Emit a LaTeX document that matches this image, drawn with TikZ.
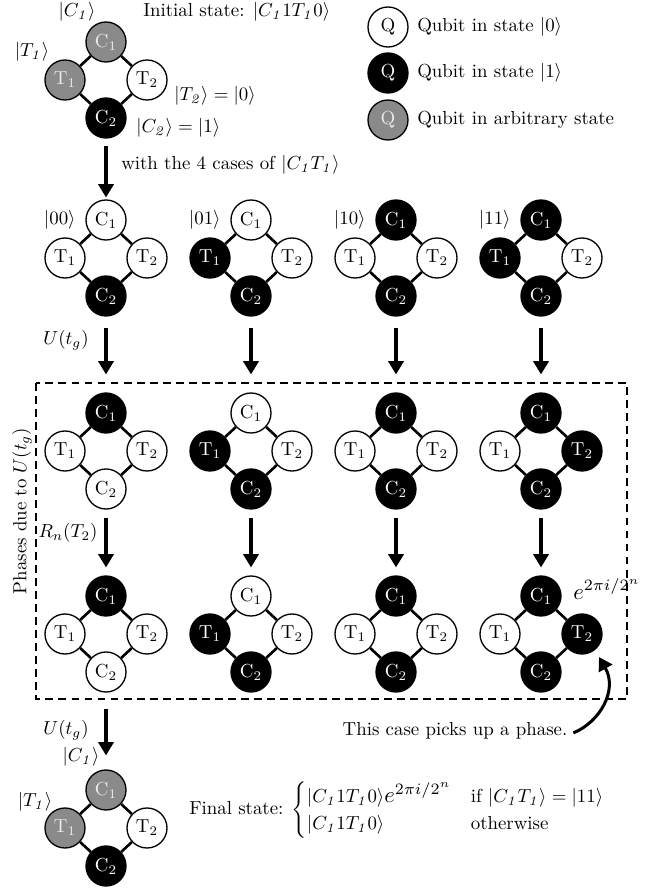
\documentclass[tikz,border=0pt]{standalone}
\usepackage{amsmath}
\usepackage{graphicx}
\usetikzlibrary{arrows.meta}

\definecolor{qgray}{RGB}{138,138,138}

\tikzset{
  qubit/.style={circle, draw=black, line width=0.7pt, minimum size=21.2pt, inner sep=0pt},
  q0/.style={fill=white, text=black},
  q1/.style={fill=black, text=white},
  qa/.style={fill=qgray, text=white!92!black},
  bond/.style={line width=1.4pt},
  flow/.style={line width=1.6pt, -{Triangle[length=7pt,width=8pt]}},
  phasebox/.style={line width=0.8pt, dash pattern=on 4.2pt off 2.7pt},
  txt/.style={inner sep=1pt},
}

% four coupled qubits on a diamond: name, centre x, centre y, styles of C1, T1, T2, C2
\newcommand\qring[7]{%
  \node[qubit,#4] (#1-c1) at (#2,#3-38) {C$_1$};
  \node[qubit,#5] (#1-t1) at (#2-41,#3) {T$_1$};
  \node[qubit,#6] (#1-t2) at (#2+41,#3) {T$_2$};
  \node[qubit,#7] (#1-c2) at (#2,#3+38) {C$_2$};
  \draw[bond] (#1-c1) -- (#1-t1) -- (#1-c2) -- (#1-t2) -- (#1-c1);
}
\newcommand\ket[1]{\lvert #1\rangle}
% the acquired phase factor, set a little larger than the surrounding text
\newcommand\phasefactor{\scalebox{1.2}{$e^{2\pi i/2^n}$}}

\begin{document}
\begin{tikzpicture}[x=0.53pt, y=-0.53pt]
\useasboundingbox (0,0) rectangle (654,888);

% initial configuration
\qring{top}{106}{80}{qa}{qa}{q0}{q1}
\node[txt] (topc1lab) at (77,12) {$\ket{C_{\mathit 1}}$};
\node[txt] (topt1lab) at (32,52) {$\ket{T_{\mathit 1}}$};
\node[txt, anchor=west] (initlab) at (141,12) {Initial state: $\ket{C_{\mathit 1}1T_{\mathit 1}0}$};
\node[txt, anchor=west] (t2lab) at (172,96) {$\ket{T_{\mathit 2}} = \ket{0}$};
\node[txt, anchor=west] (c2lab) at (134,128) {$\ket{C_{\mathit 2}} = \ket{1}$};
\node[txt, anchor=west] (caselab) at (119,165) {with the 4 cases of $\ket{C_{\mathit 1}T_{\mathit 1}}$};

% legend
\node[qubit,q0] (leg0) at (388,27) {Q};
\node[qubit,q1] (leg1) at (388,73) {Q};
\node[qubit,qa] (lega) at (388,120) {Q};
\node[txt, anchor=west] (leg0t) at (415,27) {Qubit in state $\ket{0}$};
\node[txt, anchor=west] (leg1t) at (415,73) {Qubit in state $\ket{1}$};
\node[txt, anchor=west] (legat) at (415,120) {Qubit in arbitrary state};

% the four cases of C1 T1
\qring{ra}{106}{258}{q0}{q0}{q0}{q1}
\qring{rb}{251}{258}{q0}{q1}{q0}{q1}
\qring{rc}{396}{258}{q1}{q0}{q0}{q1}
\qring{rd}{541}{258}{q1}{q1}{q0}{q1}
\node[txt, anchor=east] (l00) at ([xshift=-4pt]ra-c1.west) {$\ket{00}$};
\node[txt, anchor=east] (l01) at ([xshift=-4pt]rb-c1.west) {$\ket{01}$};
\node[txt, anchor=east] (l10) at ([xshift=-4pt]rc-c1.west) {$\ket{10}$};
\node[txt, anchor=east] (l11) at ([xshift=-4pt]rd-c1.west) {$\ket{11}$};

% after the first U(t_g)
\qring{sa}{106}{451}{q1}{q0}{q0}{q0}
\qring{sb}{251}{451}{q0}{q1}{q0}{q1}
\qring{sc}{396}{451}{q1}{q0}{q0}{q1}
\qring{sd}{541}{451}{q1}{q0}{q1}{q1}

% after R_n(T_2)
\qring{ua}{106}{634}{q1}{q0}{q0}{q0}
\qring{ub}{251}{634}{q0}{q1}{q0}{q1}
\qring{uc}{396}{634}{q1}{q0}{q0}{q1}
\qring{ud}{541}{634}{q1}{q0}{q1}{q1}
\node[txt, anchor=west] (phaseexp) at (571,589) {\phasefactor};

% final configuration
\qring{fin}{106}{828}{qa}{qa}{q0}{q1}
\node[txt] (finc1lab) at (81,757) {$\ket{C_{\mathit 1}}$};
\node[txt] (fint1lab) at (35,802) {$\ket{T_{\mathit 1}}$};
\node[txt, anchor=west] (finallab) at (187,810) {Final state: $\begin{cases}
  \ket{C_{\mathit 1}1T_{\mathit 1}0}\phasefactor & \text{if } \ket{C_{\mathit 1}T_{\mathit 1}} = \ket{11}\\
  \ket{C_{\mathit 1}1T_{\mathit 1}0} & \text{otherwise}
\end{cases}$};

% region where the phases are acquired
\draw[phasebox] (36,383) rectangle (627,699);
\node[txt, rotate=90] (phaselab) at (22,511) {Phases due to $U(t_g)$};

% evolution arrows
\draw[flow, shorten <=4pt, shorten >=1pt] (top-c2) -- (ra-c1);
\foreach \c in {a,b,c,d}{
  \draw[flow, shorten <=5.8pt, shorten >=9.5pt] (r\c-c2) -- (s\c-c1);
  \draw[flow, shorten <=4.2pt, shorten >=4.2pt] (s\c-c2) -- (u\c-c1);
}
\draw[flow, shorten <=8.5pt, shorten >=7.4pt] (ua-c2) -- (fin-c1);
\node[txt] (ulab1) at (66,340) {$U(t_g)$};
\node[txt] (rlab) at (68,533) {$R_n(T_2)$};
\node[txt] (ulab2) at (66,730) {$U(t_g)$};

% note on the phase
\node[txt] (note) at (455,731) {This case picks up a phase.};
\coordinate (notetip) at (599,657);
\draw[flow] ([xshift=2pt,yshift=-1pt]note.east) .. controls (600,722) and (618,690) .. (notetip);
\end{tikzpicture}
\end{document}
